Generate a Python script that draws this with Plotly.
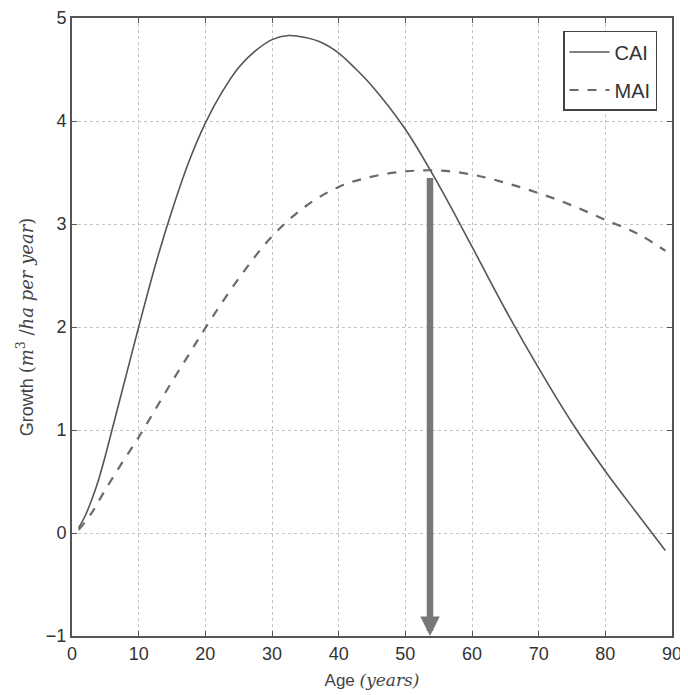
import plotly.graph_objects as go

# CAI / MAI
age_cai = [1, 2, 3, 4, 5, 6, 8, 10, 12.5, 15, 17.5, 20, 22.5, 25, 27.5, 30, 32.5, 35, 37.5,
           40, 42.5, 45, 50, 55, 60, 65, 70, 75, 80, 85, 89]
cai = [0.05, 0.17, 0.33, 0.52, 0.75, 1.0, 1.5, 2.0, 2.6, 3.13, 3.6, 3.98, 4.28, 4.52, 4.68,
       4.79, 4.83, 4.81, 4.76, 4.66, 4.51, 4.34, 3.92, 3.38, 2.78, 2.17, 1.6, 1.07, 0.6, 0.17,
       -0.17]

age_mai = [1, 3, 5, 7.5, 10, 12.5, 15, 17.5, 20, 25, 30, 35, 40, 45, 50, 55, 60, 65, 70, 75,
           80, 85, 89]
mai = [0.03, 0.2, 0.42, 0.68, 0.93, 1.2, 1.47, 1.73, 1.99, 2.47, 2.88, 3.17, 3.36, 3.46, 3.51,
       3.52, 3.48, 3.4, 3.3, 3.18, 3.04, 2.9, 2.74]

# rotation age (where CAI = MAI)
rot_age = 53.7
rot_growth = 3.46

font = "Liberation Sans Narrow, Liberation Sans, Arial Narrow, sans-serif"

fig = go.Figure()
fig.add_trace(go.Scatter(x=age_cai, y=cai, mode="lines", name="CAI", legendgroup="cai",
                         line=dict(color="#555555", width=1.6, shape="spline", smoothing=1)))
fig.add_trace(go.Scatter(x=age_mai, y=mai, mode="lines", name="MAI", legendgroup="mai",
                         line=dict(color="#6a6a6a", width=2.2, dash="dash", shape="spline",
                                   smoothing=1)))

fig.add_annotation(x=rot_age, y=-1, ax=rot_age, ay=rot_growth, xref="x", yref="y",
                   axref="x", ayref="y", showarrow=True, arrowhead=2, arrowsize=0.6,
                   arrowwidth=6.5, arrowcolor="#777777", text="")

axis = dict(showline=True, linecolor="#555555", linewidth=2, mirror="allticks",
            ticks="inside", ticklen=5, tickcolor="#555555", showgrid=True,
            gridcolor="#c4c4c4", griddash="dot", gridwidth=1, zeroline=False,
            automargin=False, ticklabeloverflow="allow",
            tickfont=dict(family=font, size=18, color="#333333"))

fig.update_xaxes(range=[0, 90], dtick=10, **axis,
                 title=dict(text="Age <span style='font-family:DejaVu Serif'><i>(years)</i></span>",
                            font=dict(family=font, size=17, color="#444444"), standoff=12))
fig.update_yaxes(range=[-1, 5], dtick=1, **axis,
                 title=dict(text="Growth <span style='font-family:DejaVu Serif'>(<i>m</i><sup>3</sup> /<i>ha per year</i>)</span>",
                            font=dict(family=font, size=18, color="#444444"), standoff=8))

# the page body adds an 8px offset, so the figure is drawn a little smaller
fig.update_layout(
    width=680, height=687,
    margin=dict(l=64, r=16, t=10, b=59),
    plot_bgcolor="white", paper_bgcolor="white",
    legend=dict(x=0.975, y=0.979, xanchor="right", yanchor="top", bgcolor="white",
                bordercolor="#444444", borderwidth=1.5, itemwidth=40, tracegroupgap=9,
                font=dict(family=font, size=20, color="#333333")),
)

fig.write_html("out.html")
